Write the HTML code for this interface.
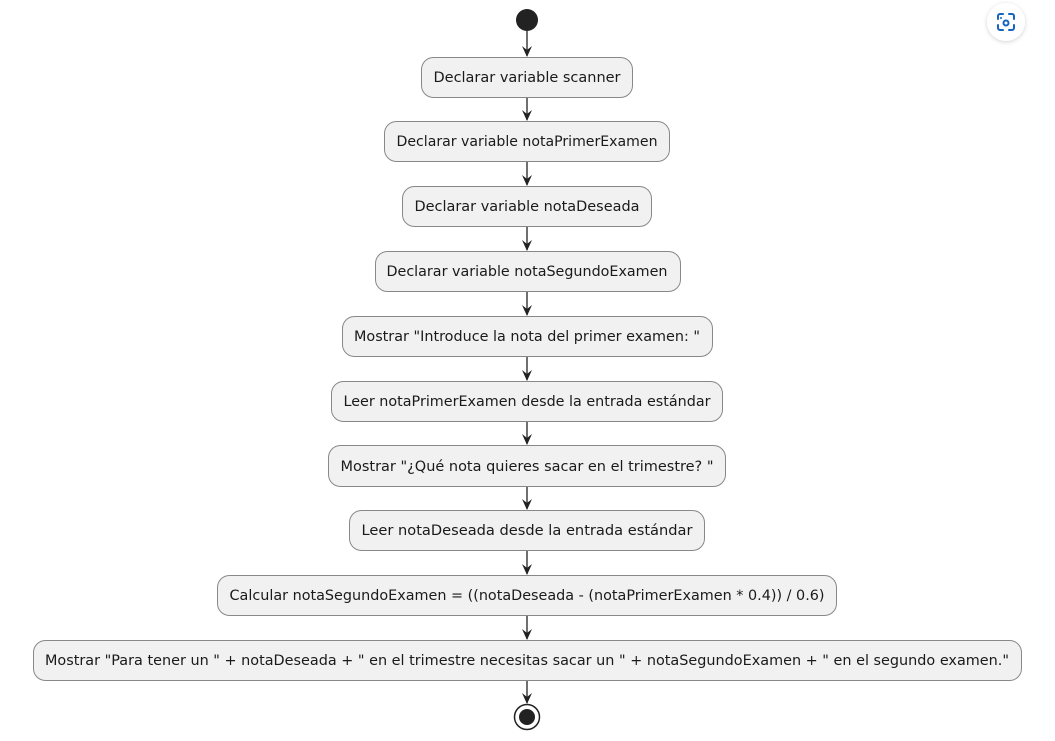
<!DOCTYPE html>
<html><head><meta charset="utf-8"><style>
html,body{margin:0;padding:0;background:#fff;width:1055px;height:741px;overflow:hidden}
svg{display:block}
text{font-family:"DejaVu Sans","Liberation Sans",sans-serif;font-size:14px;fill:#1a1a1a}
</style></head><body>
<svg width="1055" height="741" viewBox="0 0 1055 741" xmlns="http://www.w3.org/2000/svg">
<defs><filter id="sh" x="-50%" y="-50%" width="200%" height="200%"><feDropShadow dx="0" dy="1" stdDeviation="2" flood-color="#000" flood-opacity="0.18"/></filter></defs>
<circle cx="1006" cy="22" r="19" fill="#fff" filter="url(#sh)"/>
<g stroke="#1565c0" stroke-width="2" fill="none" stroke-linecap="round">
<path d="M998 19v-3a2 2 0 0 1 2-2h3M1009 14h3a2 2 0 0 1 2 2v3M1014 25v3a2 2 0 0 1-2 2h-3M1003 30h-3a2 2 0 0 1-2-2v-3"/>
<circle cx="1006" cy="23" r="2.5"/>
</g>
<circle cx="1001" cy="18" r="1" fill="#1565c0"/>
<circle cx="527" cy="20" r="11" fill="#222"/>
<g stroke="#222" stroke-width="1.3" fill="none">
<line x1="527" y1="31" x2="527" y2="56"/>
<line x1="527" y1="97" x2="527" y2="120"/>
<line x1="527" y1="161" x2="527" y2="185"/>
<line x1="527" y1="226" x2="527" y2="250"/>
<line x1="527" y1="291" x2="527" y2="315"/>
<line x1="527" y1="356" x2="527" y2="380"/>
<line x1="527" y1="421" x2="527" y2="444"/>
<line x1="527" y1="486" x2="527" y2="509"/>
<line x1="527" y1="550" x2="527" y2="574"/>
<line x1="527" y1="615" x2="527" y2="639"/>
<line x1="527" y1="680" x2="527" y2="703"/>
</g>
<g fill="#222">
<path d="M522 46l5 11 5-11-5 4z"/><path d="M522 110l5 11 5-11-5 4z"/><path d="M522 175l5 11 5-11-5 4z"/>
<path d="M522 240l5 11 5-11-5 4z"/><path d="M522 305l5 11 5-11-5 4z"/><path d="M522 370l5 11 5-11-5 4z"/>
<path d="M522 434l5 11 5-11-5 4z"/><path d="M522 499l5 11 5-11-5 4z"/><path d="M522 564l5 11 5-11-5 4z"/>
<path d="M522 629l5 11 5-11-5 4z"/><path d="M522 693l5 11 5-11-5 4z"/>
</g>
<g fill="#f1f1f1" stroke="#888" stroke-width="1">
<rect x="421.5" y="57.5" width="211" height="40" rx="12"/>
<rect x="384.5" y="121.5" width="285" height="40" rx="12"/>
<rect x="402.5" y="186.5" width="249" height="40" rx="12"/>
<rect x="375.5" y="251.5" width="305" height="40" rx="12"/>
<rect x="342.5" y="316.5" width="370" height="40" rx="12"/>
<rect x="331.5" y="381.5" width="391" height="40" rx="12"/>
<rect x="328.5" y="445.5" width="397" height="41" rx="12"/>
<rect x="349.5" y="510.5" width="355" height="40" rx="12"/>
<rect x="217.5" y="575.5" width="619" height="40" rx="12"/>
<rect x="33.5" y="640.5" width="988" height="40" rx="12"/>
</g>
<g text-anchor="middle">
<text x="527" y="82" textLength="187" lengthAdjust="spacingAndGlyphs">Declarar variable scanner</text>
<text x="527" y="146" textLength="261" lengthAdjust="spacingAndGlyphs">Declarar variable notaPrimerExamen</text>
<text x="527" y="211" textLength="225" lengthAdjust="spacingAndGlyphs">Declarar variable notaDeseada</text>
<text x="527" y="276" textLength="281" lengthAdjust="spacingAndGlyphs">Declarar variable notaSegundoExamen</text>
<text x="527" y="341" textLength="346" lengthAdjust="spacingAndGlyphs">Mostrar "Introduce la nota del primer examen: "</text>
<text x="527" y="406" textLength="367" lengthAdjust="spacingAndGlyphs">Leer notaPrimerExamen desde la entrada estándar</text>
<text x="527" y="471" textLength="373" lengthAdjust="spacingAndGlyphs">Mostrar "¿Qué nota quieres sacar en el trimestre? "</text>
<text x="527" y="535" textLength="331" lengthAdjust="spacingAndGlyphs">Leer notaDeseada desde la entrada estándar</text>
<text x="527" y="600" textLength="595" lengthAdjust="spacingAndGlyphs">Calcular notaSegundoExamen = ((notaDeseada - (notaPrimerExamen * 0.4)) / 0.6)</text>
<text x="527" y="665" textLength="964" lengthAdjust="spacingAndGlyphs">Mostrar "Para tener un " + notaDeseada + " en el trimestre necesitas sacar un " + notaSegundoExamen + " en el segundo examen."</text>
</g>
<circle cx="527" cy="717" r="12.5" fill="#fff" stroke="#222" stroke-width="1.5"/>
<circle cx="527" cy="717" r="8" fill="#222"/>
</svg>
</body></html>
